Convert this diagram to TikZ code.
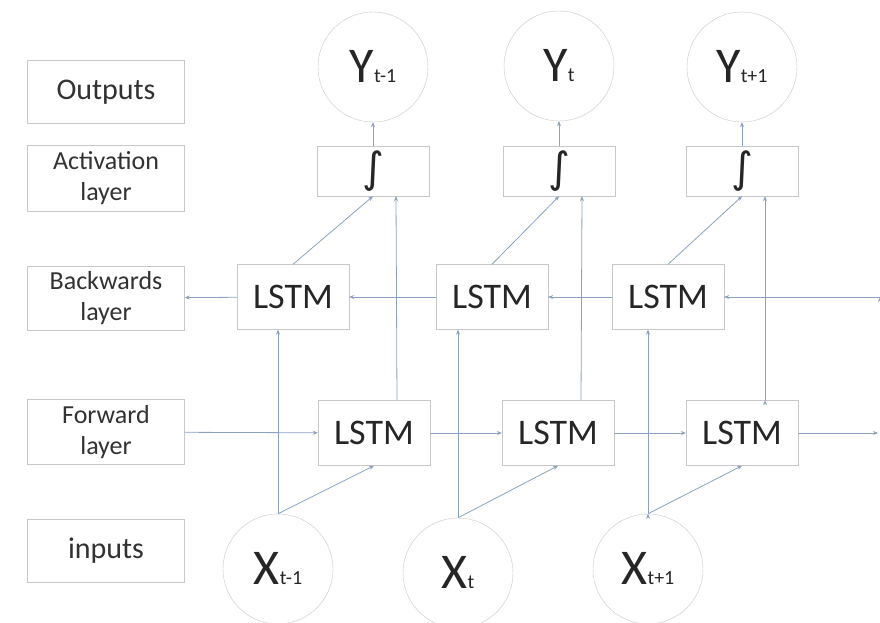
\documentclass[tikz,border=0pt]{standalone}
\usepackage{fontspec}
\setmainfont{Carlito}
\newfontfamily\symfont{DejaVu Sans}
\usetikzlibrary{positioning, arrows.meta}

\definecolor{linkblue}{RGB}{140,162,196}
\definecolor{boxgray}{RGB}{200,200,200}
\definecolor{txtgray}{RGB}{50,50,50}
\newcommand{\idx}[1]{{\fontsize{20}{20}\selectfont #1}}

\begin{document}
\begin{tikzpicture}[x=1pt, y=-1pt, on grid, node distance=100pt,
    lbl/.style={draw=boxgray, minimum width=157pt, text width=150pt, align=center,
        inner sep=0pt, text=txtgray, font=\fontsize{26}{31}\selectfont},
    cell/.style={draw=boxgray, minimum width=112pt, minimum height=65pt,
        text=black!85, font=\fontsize{36}{36}\selectfont},
    squash/.style={draw=boxgray, minimum width=112pt, minimum height=50pt,
        text=black!85, font=\symfont\fontsize{42}{42}\selectfont},
    unit/.style={circle, draw=boxgray, minimum size=110pt, inner sep=0pt,
        text=black!85, font=\fontsize{50}{50}\selectfont},
    link/.style={draw=linkblue, line width=0.8pt, -{Stealth[length=5pt, width=4pt]}}]
    \useasboundingbox[fill=white] (0,0) rectangle (880,623);

    % row labels
    \node[lbl, minimum height=63pt, font=\fontsize{30}{30}\selectfont] (outlbl) at (106,92) {Outputs};
    \node[lbl, minimum height=66pt] (actlbl) at (106,178) {Activation\\layer};
    \node[lbl, minimum height=64pt] (bwlbl) at (106,298) {Backwards\\layer};
    \node[lbl, minimum height=65pt] (fwlbl) at (106,432) {Forward\\layer};
    \node[lbl, minimum height=63pt, font=\fontsize{30}{30}\selectfont] (inlbl) at (106,551) {inputs};

    % outputs
    \node[unit] (y1) at (373,67) {Y\idx{t-1}};
    \node[unit] (y2) at (559,66) {Y\idx{t}};
    \node[unit] (y3) at (742,67) {Y\idx{t+1}};

    \node[squash] (act1) [below=104pt of y1] {\raisebox{-3pt}{∫}};
    \node[squash] (act2) [below=105pt of y2] {\raisebox{-3pt}{∫}};
    \node[squash] (act3) [below=104pt of y3] {\raisebox{-3pt}{∫}};

    % LSTM cells
    \node[cell] (bw1) at (293,297) {LSTM};
    \node[cell] (bw2) [right=199pt of bw1] {LSTM};
    \node[cell] (bw3) [right=176pt of bw2] {LSTM};

    \node[cell] (fw1) at (374,433) {LSTM};
    \node[cell] (fw2) [right=184pt of fw1] {LSTM};
    \node[cell] (fw3) [right=184pt of fw2] {LSTM};

    % inputs
    \node[unit] (x1) at (278,569) {X\idx{t-1}};
    \node[unit] (x2) at (458,573) {X\idx{t}};
    \node[unit] (x3) at (648,569) {X\idx{t+1}};

    \coordinate (bwin) at (880,297);
    \coordinate (fwout) at (878,433);

    \path[link]
        (act1) edge (y1)
        (act2) edge (y2)
        (act3) edge (y3)
        (bw1.north) edge (act1.south)
        (bw2.north) edge (act2.south)
        (bw3.north) edge (act3.south)
        ([xshift=23pt]fw1.north) edge ([xshift=23pt]act1.south)
        ([xshift=23pt]fw2.north) edge ([xshift=23pt]act2.south)
        ([xshift=23pt]fw3.north) edge ([xshift=23pt]act3.south);

    % backward chain
    \path[link]
        (bwin) edge (bw3)
        (bw3) edge (bw2)
        (bw2) edge (bw1)
        (bw1) edge (bwlbl);

    % forward chain
    \path[link]
        (fwlbl) edge (fw1)
        (fw1) edge (fw2)
        (fw2) edge (fw3)
        (fw3) edge (fwout);

    \path[link]
        (x1.north) edge (x1.north |- bw1.south)
        (x2.north) edge (x2.north |- bw2.south)
        (x3.north) edge (x3.north |- bw3.south)
        (x1.north) edge (fw1.south)
        (x2.north) edge (fw2.south)
        (x3.north) edge (fw3.south);
\end{tikzpicture}
\end{document}
